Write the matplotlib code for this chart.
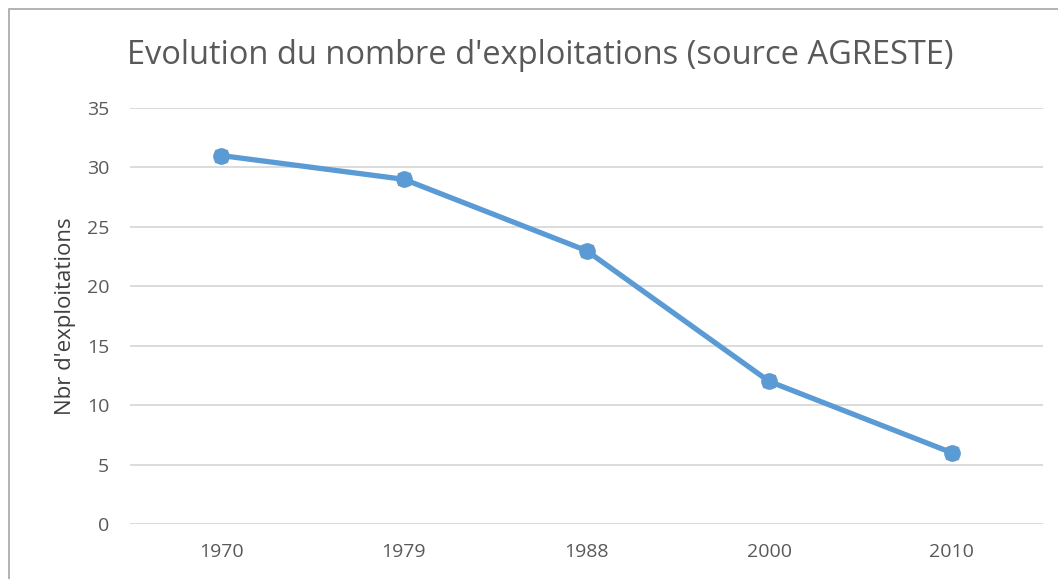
import matplotlib.pyplot as plt
from matplotlib.patches import Rectangle

annees = ["1970", "1979", "1988", "2000", "2010"]
nb_exploitations = [31, 29, 23, 12, 6]
nb_exploitations_2 = [31, 29, 23, 12, 6]  # serie orange cachee derriere

plt.rcParams['font.family'] = ['Open Sans', 'DejaVu Sans']
gris = "#595959"

fig = plt.figure(figsize=(10.58, 5.79), dpi=100)
ax = fig.add_axes([130/1058, 1-524/579, 913/1058, 416/579])

x = range(len(annees))
ax.plot(x, nb_exploitations_2, "s", color="#ED7D31", markersize=9, zorder=2)
ax.plot(x, nb_exploitations, "-o", color="#5B9BD5", linewidth=3.8,
        markersize=11, zorder=3)

ax.set_xlim(-0.5, len(annees) - 0.5)
ax.set_ylim(0, 35)
ax.set_yticks(range(0, 36, 5))
ax.set_xticks(list(x))
ax.set_xticklabels(annees)
ax.grid(axis="y", color="#D9D9D9", linewidth=1.3)
ax.set_axisbelow(True)
for s in ax.spines.values():
    s.set_visible(False)
ax.tick_params(length=0, labelsize=14, colors=gris)
ax.tick_params(axis="y", pad=15)
ax.tick_params(axis="x", pad=14)
ax.set_ylabel("Nbr d'exploitations", fontsize=16, color="#404040", labelpad=8)

fig.text(540/1058, 1-55/579, "Evolution du nombre d'exploitations (source AGRESTE)",
         ha="center", va="center", fontsize=23.5, color=gris)

fig.patches.append(Rectangle((9/1058, -0.1), 1.2, 1 - 9/579 + 0.1,
                             transform=fig.transFigure, fill=False,
                             edgecolor="#A6A6A6", linewidth=1.2))

fig.savefig("out.png", dpi=100)
